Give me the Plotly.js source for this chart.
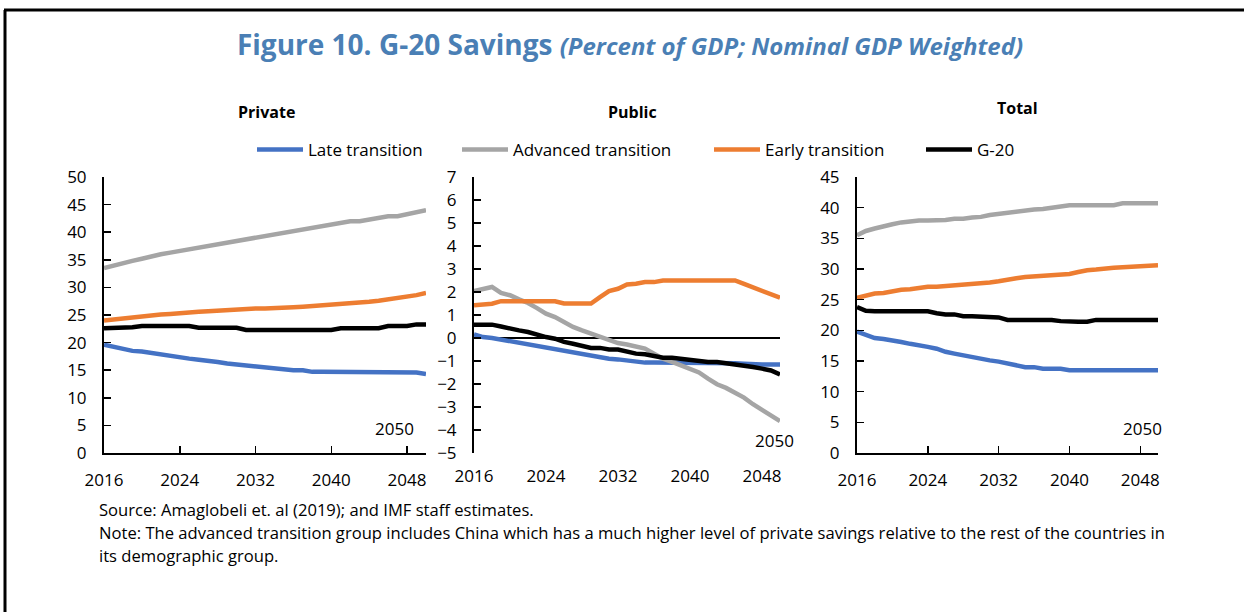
<!DOCTYPE html>
<html>
<head>
<meta charset="utf-8">
<script src="https://cdn.plot.ly/plotly-3.0.1.min.js"></script>
<style>html,body{margin:0;padding:0;background:#fff;overflow:hidden;}#chart{width:1244px;height:612px;}</style>
</head>
<body>
<div id="chart"></div>
<script>
const years = [2016,2017,2018,2019,2020,2021,2022,2023,2024,2025,2026,2027,2028,2029,2030,2031,2032,2033,2034,2035,2036,2037,2038,2039,2040,2041,2042,2043,2044,2045,2046,2047,2048,2049,2050];
const seriesNames = ["Late transition","Advanced transition","Early transition","G-20"];
const seriesColors = ["#4472C4","#A5A5A5","#ED7D31","#000000"];
const panelTitles = ["Private","Public","Total"];
const xTickVals = [2016,2024,2032,2040,2048];

// Private savings
const privateLate = [19.6,19.2,18.9,18.5,18.4,18.1,17.8,17.7,17.4,17.1,16.9,16.8,16.5,16.2,16.0,15.9,15.6,15.5,15.4,15.1,15.0,15.0,14.7,14.7,14.7,14.7,14.7,14.7,14.7,14.7,14.7,14.7,14.7,14.6,14.3];
const privateAdvanced = [33.5,34.0,34.5,34.8,35.2,35.7,36.0,36.3,36.6,36.9,37.2,37.5,37.8,38.1,38.4,38.7,39.0,39.3,39.6,39.9,40.2,40.5,40.8,41.1,41.4,41.7,42.0,42.0,42.3,42.6,42.9,42.9,43.2,43.6,44.0];
const privateEarly = [24.0,24.2,24.5,24.6,24.8,24.9,25.1,25.2,25.4,25.5,25.6,25.7,25.8,26.0,26.1,26.2,26.2,26.2,26.2,26.3,26.4,26.5,26.6,26.7,26.8,27.0,27.1,27.2,27.4,27.6,27.8,28.0,28.2,28.6,29.0];
const privateG20 = [22.6,22.6,22.6,22.8,23.0,23.0,23.0,23.0,23.0,23.0,22.7,22.7,22.7,22.7,22.7,22.3,22.3,22.3,22.3,22.3,22.3,22.3,22.3,22.3,22.3,22.6,22.6,22.6,22.6,22.6,23.0,23.0,23.0,23.3,23.3];

// Public savings
const publicLate = [0.16,0.04,0.0,-0.07,-0.14,-0.22,-0.29,-0.36,-0.43,-0.51,-0.58,-0.65,-0.68,-0.75,-0.83,-0.9,-0.93,-0.97,-1.04,-1.07,-1.07,-1.07,-1.07,-1.07,-1.07,-1.07,-1.07,-1.07,-1.08,-1.1,-1.12,-1.15,-1.15,-1.15,-1.15];
const publicAdvanced = [2.04,2.12,2.22,1.96,1.86,1.68,1.52,1.3,1.06,0.91,0.7,0.48,0.33,0.19,0.04,-0.1,-0.22,-0.28,-0.39,-0.46,-0.68,-0.9,-1.04,-1.19,-1.33,-1.5,-1.77,-2.01,-2.17,-2.39,-2.59,-2.88,-3.12,-3.36,-3.61];
const publicEarly = [1.42,1.47,1.49,1.6,1.6,1.6,1.6,1.6,1.6,1.6,1.5,1.5,1.5,1.5,1.78,2.04,2.14,2.33,2.36,2.43,2.43,2.5,2.5,2.5,2.5,2.5,2.5,2.5,2.5,2.5,2.35,2.2,2.05,1.9,1.75];
const publicG20 = [0.58,0.58,0.58,0.5,0.4,0.33,0.26,0.14,0.04,-0.03,-0.17,-0.25,-0.35,-0.43,-0.43,-0.5,-0.5,-0.61,-0.68,-0.71,-0.8,-0.86,-0.86,-0.9,-0.97,-1.01,-1.04,-1.04,-1.09,-1.12,-1.19,-1.26,-1.33,-1.41,-1.59];

// Total savings
const totalLate = [19.8,19.2,18.75,18.6,18.4,18.1,17.8,17.6,17.3,17.0,16.5,16.2,15.9,15.7,15.4,15.1,14.9,14.6,14.3,14.0,14.0,13.75,13.75,13.75,13.5,13.5,13.5,13.5,13.5,13.5,13.5,13.5,13.5,13.5,13.5];
const totalAdvanced = [35.5,36.2,36.6,37.0,37.3,37.6,37.8,37.9,37.9,37.9,38.0,38.2,38.2,38.4,38.5,38.8,39.0,39.2,39.3,39.6,39.7,39.8,40.0,40.1,40.4,40.4,40.4,40.4,40.4,40.4,40.7,40.7,40.7,40.7,40.7];
const totalEarly = [25.3,25.7,26.0,26.1,26.4,26.6,26.7,26.9,27.1,27.1,27.2,27.3,27.4,27.6,27.7,27.8,28.0,28.3,28.5,28.7,28.8,29.0,29.0,29.2,29.2,29.5,29.8,29.9,30.1,30.2,30.3,30.4,30.4,30.6,30.6];
const totalG20 = [23.8,23.2,23.1,23.1,23.1,23.1,23.1,23.1,23.1,22.8,22.6,22.6,22.3,22.3,22.2,22.2,22.1,21.7,21.7,21.7,21.7,21.7,21.7,21.5,21.4,21.4,21.4,21.7,21.7,21.7,21.7,21.7,21.7,21.7,21.7];

const panels = [
  {data:[privateLate,privateAdvanced,privateEarly,privateG20], xa:'x', ya:'y'},
  {data:[publicLate,publicAdvanced,publicEarly,publicG20], xa:'x2', ya:'y2'},
  {data:[totalLate,totalAdvanced,totalEarly,totalG20], xa:'x3', ya:'y3'}
];
const legendIds = ['legend','legend2','legend3','legend4'];

const traces = [];
panels.forEach((p, pi) => {
  p.data.forEach((vals, si) => {
    traces.push({
      x: years, y: vals, xaxis: p.xa, yaxis: p.ya, type: 'scatter', mode: 'lines',
      name: seriesNames[si], legendgroup: seriesNames[si], showlegend: pi === 0,
      legend: legendIds[si],
      line: {color: seriesColors[si], width: 4.5}, hoverinfo: 'skip'
    });
  });
});

const FONT = "'Open Sans', 'Noto Sans', sans-serif";
const tickFont = {family: FONT, size: 17, color: '#000'};

function xAxis(domain, anchor, showline) {
  return {
    domain: domain, anchor: anchor, range: [2016, 2050], tickmode: 'array', tickvals: xTickVals,
    showgrid: false, zeroline: false, showline: showline, linecolor: '#000', linewidth: 2,
    ticks: showline ? 'inside' : '', ticklen: 7, tickwidth: 1.5, tickcolor: '#000',
    tickfont: tickFont, ticklabelstandoff: 11, fixedrange: true
  };
}
function yAxis(domain, anchor, range, dtick, zero) {
  return {
    domain: domain, anchor: anchor, range: range, dtick: dtick, tick0: 0,
    showgrid: false, zeroline: zero, zerolinecolor: '#000', zerolinewidth: 1.2,
    showline: true, linecolor: '#000', linewidth: 2,
    ticks: 'inside', ticklen: 7, tickwidth: 1.5, tickcolor: '#000',
    tickfont: tickFont, ticklabelstandoff: 12, fixedrange: true
  };
}

const W = 1244, H = 612;
const yDom = [(H-453)/H, (H-177)/H];
const legendStarts = [257, 462, 714, 926];
function legendAt(px) {
  return {
    orientation: 'h', x: (px - 5) / W, xanchor: 'left', y: 1-150/H, yanchor: 'middle',
    font: {family: FONT, size: 17, color: '#000'}, bgcolor: 'rgba(0,0,0,0)', borderwidth: 0,
    itemwidth: 46, tracegroupgap: 0, itemclick: false, itemdoubleclick: false
  };
}

const layout = {
  width: W, height: H,
  margin: {l: 0, r: 0, t: 0, b: 0},
  paper_bgcolor: '#fff', plot_bgcolor: 'rgba(0,0,0,0)',
  font: {family: FONT, color: '#000'},
  title: {
    text: "<b>Figure 10. G-20 Savings</b> <b><i><span style='font-size:24px'>(Percent of GDP; Nominal GDP Weighted)</span></i></b>",
    font: {family: FONT, size: 28, color: '#4a7fb5'},
    x: 630/W, xanchor: 'center', xref: 'paper', y: 1-45/H, yanchor: 'middle', yref: 'paper'
  },
  showlegend: true,
  legend: legendAt(legendStarts[0]),
  legend2: legendAt(legendStarts[1]),
  legend3: legendAt(legendStarts[2]),
  legend4: legendAt(legendStarts[3]),
  xaxis: xAxis([104/W, 426/W], 'y', true),
  yaxis: yAxis(yDom, 'x', [0, 50], 5, false),
  xaxis2: xAxis([474/W, 780/W], 'y2', false),
  yaxis2: yAxis(yDom, 'x2', [-5, 7], 1, true),
  xaxis3: xAxis([857/W, 1158/W], 'y3', true),
  yaxis3: yAxis(yDom, 'x3', [0, 45], 5, false),
  shapes: [
    {type: 'line', xref: 'paper', yref: 'paper', x0: 4/W, x1: 1, y0: 1-10/H, y1: 1-10/H, line: {color: '#000', width: 3}},
    {type: 'line', xref: 'paper', yref: 'paper', x0: 5/W, x1: 5/W, y0: 0, y1: 1-10/H, line: {color: '#000', width: 3}}
  ],
  annotations: [
    {text: '<b>' + panelTitles[0] + '</b>', xref: 'paper', yref: 'paper', x: 266/W, y: 1-112/H, xanchor: 'center', yanchor: 'middle', showarrow: false, font: {family: FONT, size: 16, color: '#000'}},
    {text: '<b>' + panelTitles[1] + '</b>', xref: 'paper', yref: 'paper', x: 632/W, y: 1-112/H, xanchor: 'center', yanchor: 'middle', showarrow: false, font: {family: FONT, size: 16, color: '#000'}},
    {text: '<b>' + panelTitles[2] + '</b>', xref: 'paper', yref: 'paper', x: 1017/W, y: 1-108/H, xanchor: 'center', yanchor: 'middle', showarrow: false, font: {family: FONT, size: 16, color: '#000'}},
    {text: '2050', xref: 'x domain', yref: 'y domain', x: 0.969, y: 0.09, xanchor: 'right', yanchor: 'middle', showarrow: false, font: {family: FONT, size: 17, color: '#000'}},
    {text: '2050', xref: 'x2 domain', yref: 'y2 domain', x: 1.052, y: 0.047, xanchor: 'right', yanchor: 'middle', showarrow: false, font: {family: FONT, size: 17, color: '#000'}},
    {text: '2050', xref: 'x3 domain', yref: 'y3 domain', x: 1.02, y: 0.087, xanchor: 'right', yanchor: 'middle', showarrow: false, font: {family: FONT, size: 17, color: '#000'}},
    {text: 'Source: Amaglobeli et. al (2019); and IMF staff estimates.', xref: 'paper', yref: 'paper', x: 97/W, y: 1-509/H, xanchor: 'left', yanchor: 'middle', showarrow: false, font: {family: FONT, size: 16.6, color: '#000'}},
    {text: 'Note: The advanced transition group includes China which has a much higher level of private savings relative to the rest of the countries in', xref: 'paper', yref: 'paper', x: 97/W, y: 1-532/H, xanchor: 'left', yanchor: 'middle', showarrow: false, font: {family: FONT, size: 16.6, color: '#000'}},
    {text: 'its demographic group.', xref: 'paper', yref: 'paper', x: 97/W, y: 1-555/H, xanchor: 'left', yanchor: 'middle', showarrow: false, font: {family: FONT, size: 16.6, color: '#000'}}
  ]
};

Plotly.newPlot('chart', traces, layout, {displayModeBar: false, staticPlot: true});
</script>
</body>
</html>
